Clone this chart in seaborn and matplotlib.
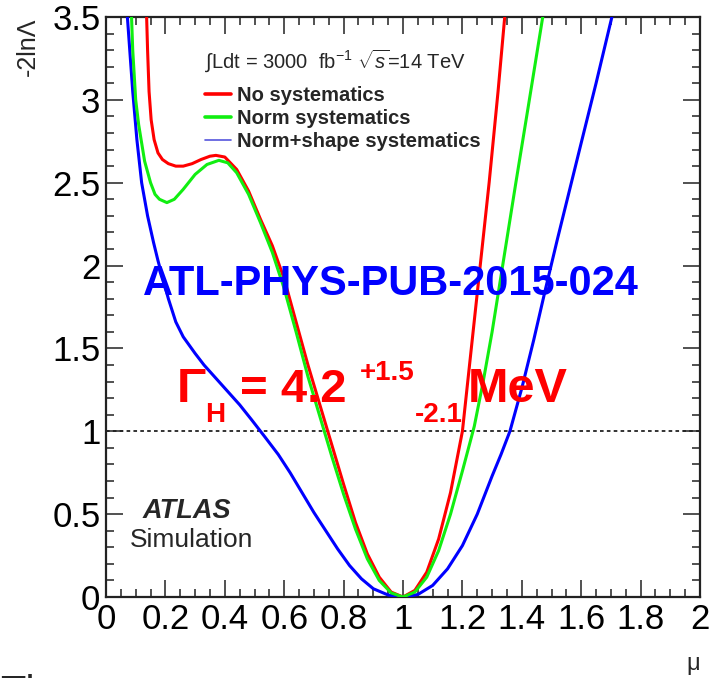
import numpy as np
import pandas as pd
import matplotlib
matplotlib.use("Agg")
import matplotlib.pyplot as plt
import seaborn as sns
from matplotlib.lines import Line2D
from matplotlib.ticker import MultipleLocator, FuncFormatter

# ---- data -------------------------------------------------------------
mu_red = [0.136, 0.14, 0.145, 0.152, 0.162, 0.175, 0.19, 0.21, 0.235, 0.26,
          0.29, 0.32, 0.35, 0.37, 0.40, 0.44, 0.48, 0.52, 0.56, 0.60, 0.64,
          0.68, 0.72, 0.76, 0.80, 0.84, 0.88, 0.92, 0.96, 1.00, 1.04, 1.08,
          1.12, 1.16, 1.20, 1.23, 1.26, 1.29, 1.32, 1.345]
nll_red = [3.55, 3.3, 3.05, 2.88, 2.76, 2.68, 2.64, 2.615, 2.60, 2.60,
           2.615, 2.64, 2.66, 2.665, 2.655, 2.58, 2.45, 2.28, 2.12, 1.92, 1.66,
           1.40, 1.16, 0.92, 0.68, 0.45, 0.26, 0.12, 0.03, 0.0, 0.04, 0.15,
           0.35, 0.63, 1.0, 1.5, 2.0, 2.5, 3.05, 3.55]

mu_green = [0.085, 0.09, 0.10, 0.11, 0.13, 0.15, 0.165, 0.18, 0.205, 0.23,
            0.26, 0.30, 0.34, 0.38, 0.41, 0.44, 0.48, 0.52, 0.56, 0.60, 0.64,
            0.68, 0.72, 0.76, 0.80, 0.84, 0.88, 0.92, 0.96, 1.00, 1.04, 1.08,
            1.12, 1.16, 1.20, 1.24, 1.27, 1.30, 1.34, 1.38, 1.42, 1.475]
nll_green = [3.55, 3.3, 3.0, 2.85, 2.63, 2.5, 2.43, 2.40, 2.38, 2.40,
             2.46, 2.55, 2.61, 2.635, 2.62, 2.56, 2.43, 2.26, 2.08, 1.86, 1.60,
             1.33, 1.09, 0.85, 0.62, 0.41, 0.23, 0.10, 0.025, 0.0, 0.03, 0.12,
             0.28, 0.50, 0.76, 1.03, 1.30, 1.60, 2.05, 2.50, 2.94, 3.55]

mu_blue = [0.07, 0.08, 0.09, 0.104, 0.12, 0.14, 0.16, 0.175, 0.19, 0.21,
           0.235, 0.26, 0.28, 0.30, 0.33, 0.37, 0.41, 0.45, 0.49, 0.535, 0.58,
           0.62, 0.66, 0.70, 0.74, 0.78, 0.82, 0.86, 0.90, 0.95, 1.00, 1.05,
           1.10, 1.15, 1.20, 1.25, 1.30, 1.33, 1.36, 1.40, 1.44, 1.48, 1.52,
           1.56, 1.60, 1.65, 1.71]
nll_blue = [3.55, 3.3, 3.05, 2.76, 2.5, 2.3, 2.14, 2.03, 1.93, 1.80,
            1.66, 1.57, 1.52, 1.47, 1.40, 1.32, 1.24, 1.16, 1.07, 0.966, 0.86,
            0.75, 0.63, 0.51, 0.40, 0.29, 0.19, 0.11, 0.05, 0.012, 0.0, 0.015,
            0.07, 0.17, 0.31, 0.50, 0.73, 0.86, 1.0, 1.26, 1.55, 1.86, 2.16,
            2.45, 2.74, 3.1, 3.55]

labels = ["No systematics", "Norm systematics", "Norm+shape systematics"]
colors = ["#ff0000", "#11ee11", "#0000ff"]
x_ticks = [0, 0.2, 0.4, 0.6, 0.8, 1.0, 1.2, 1.4, 1.6, 1.8, 2.0]
y_ticks = [0, 0.5, 1.0, 1.5, 2.0, 2.5, 3.0, 3.5]

# ---- style --------------------------------------------------------------
sns.set_theme(style="ticks")
plt.rcParams["font.family"] = ["Liberation Sans", "DejaVu Sans"]
plt.rcParams["mathtext.fontset"] = "custom"
plt.rcParams["mathtext.rm"] = "Liberation Sans"
plt.rcParams["mathtext.it"] = "Liberation Sans:italic"
plt.rcParams["mathtext.bf"] = "Liberation Sans:bold"

W, H = 710, 678
fig = plt.figure(figsize=(W / 100, H / 100), dpi=100)
fig.patch.set_facecolor("white")
ax = fig.add_axes([106 / W, 81 / H, 594 / W, 580 / H])


def P(x, y):
    return x / W, 1 - y / H


df = pd.concat([
    pd.DataFrame({"mu": mu_blue, "nll": nll_blue, "model": labels[2]}),
    pd.DataFrame({"mu": mu_red, "nll": nll_red, "model": labels[0]}),
    pd.DataFrame({"mu": mu_green, "nll": nll_green, "model": labels[1]}),
], ignore_index=True)

ax.axhline(1.0, color="#222222", lw=1.3, ls=(0, (2.0, 1.8)), zorder=1)
sns.lineplot(data=df, x="mu", y="nll", hue="model",
             hue_order=[labels[2], labels[0], labels[1]],
             palette=dict(zip(labels, colors)), sort=False, estimator=None,
             linewidth=2.2, legend=False, ax=ax, zorder=3)

ax.set_xlim(0, 2)
ax.set_ylim(0, 3.5)
ax.set_xlabel("")
ax.set_ylabel("")
ax.set_xticks(x_ticks)
ax.set_yticks(y_ticks)
fmt = FuncFormatter(lambda v, p: f"{v:g}")
ax.xaxis.set_major_formatter(fmt)
ax.yaxis.set_major_formatter(fmt)
ax.xaxis.set_minor_locator(MultipleLocator(0.05))
ax.yaxis.set_minor_locator(MultipleLocator(0.1))
ax.tick_params(which="both", direction="in", top=True, right=True,
               width=1.2, color="#333333", labelsize=25, pad=4,
               labelcolor="black")
ax.tick_params(which="major", length=12)
ax.tick_params(which="minor", length=6)
for s in ax.spines.values():
    s.set_linewidth(1.6)
    s.set_color("#222222")

# axis titles
fig.text(*P(28, 18), "-2ln\u039b", rotation=90, ha="center", va="top",
         fontsize=18)
fig.text(*P(693, 670), "\u03bc", ha="center", va="baseline", fontsize=17)

# legend
handles = [Line2D([], [], color=colors[0], lw=2.6),
           Line2D([], [], color=colors[1], lw=2.6),
           Line2D([], [], color="#5555dd", lw=1.2)]
ax.legend(handles, labels, loc="upper left", bbox_to_anchor=P(205, 86),
          bbox_transform=fig.transFigure, frameon=False,
          prop={"weight": "bold", "size": 14.5}, handlelength=1.3,
          handletextpad=0.3, labelspacing=0.2, borderpad=0, borderaxespad=0)
fig.text(*P(205, 61), r"$\int$Ldt = 3000  fb$^{-1}$ $\sqrt{s}$=14 TeV",
         fontsize=14.5, va="center", ha="left")

# annotations
fig.text(*P(391, 295), "ATL-PHYS-PUB-2015-024", color="#0000ff",
         fontsize=30, fontweight="bold", ha="center", va="baseline")
red = "#ff0000"
fig.text(*P(177, 402), "\u0393", color=red, fontsize=35, fontweight="bold",
         va="baseline")
fig.text(*P(205, 422), "H", color=red, fontsize=20, fontweight="bold",
         va="baseline")
fig.text(*P(240, 402), "= 4.2", color=red, fontsize=34, fontweight="bold",
         va="baseline")
fig.text(*P(360, 380), "+1.5", color=red, fontsize=20, fontweight="bold",
         va="baseline")
fig.text(*P(415, 422), "-2.1", color=red, fontsize=20, fontweight="bold",
         va="baseline")
fig.text(*P(468, 402), "MeV", color=red, fontsize=35, fontweight="bold",
         va="baseline")

fig.text(*P(143, 518), "ATLAS", fontsize=19.5, fontweight="bold",
         fontstyle="italic", va="baseline")
fig.text(*P(130, 547), "Simulation", fontsize=19, va="baseline")

# slide text cut by the bottom edge (as in the reference screenshot)
fig.text(*P(0, 705), "The", fontsize=30, va="baseline", ha="left")

fig.savefig("out.png", dpi=100)
